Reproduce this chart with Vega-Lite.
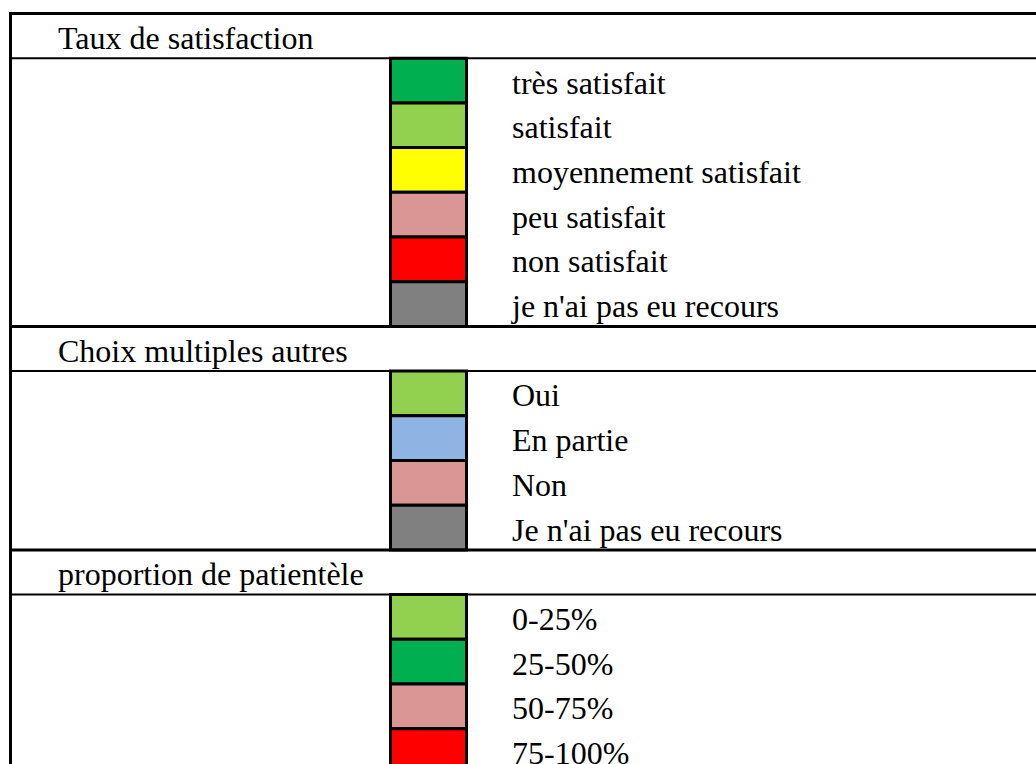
{
  "$schema": "https://vega.github.io/schema/vega-lite/v6.json",
  "width": 1025.5,
  "height": 750.5,
  "autosize": "none",
  "padding": {"left": 10.5, "top": 13.5, "right": 0, "bottom": 0},
  "background": "white",
  "config": {"view": {"stroke": null}},
  "data": {"values": [
    {"row": 0, "kind": "header", "label": "Taux de satisfaction"},
    {"row": 1, "kind": "item", "label": "très satisfait"},
    {"row": 2, "kind": "item", "label": "satisfait"},
    {"row": 3, "kind": "item", "label": "moyennement satisfait"},
    {"row": 4, "kind": "item", "label": "peu satisfait"},
    {"row": 5, "kind": "item", "label": "non satisfait"},
    {"row": 6, "kind": "item", "label": "je n'ai pas eu recours"},
    {"row": 7, "kind": "header", "label": "Choix multiples autres"},
    {"row": 8, "kind": "item", "label": "Oui"},
    {"row": 9, "kind": "item", "label": "En partie"},
    {"row": 10, "kind": "item", "label": "Non"},
    {"row": 11, "kind": "item", "label": "Je n'ai pas eu recours"},
    {"row": 12, "kind": "header", "label": "proportion de patientèle"},
    {"row": 13, "kind": "item", "label": "0-25%"},
    {"row": 14, "kind": "item", "label": "25-50%"},
    {"row": 15, "kind": "item", "label": "50-75%"},
    {"row": 16, "kind": "item", "label": "75-100%"}
  ]},
  "layer": [
    {
      "transform": [{"filter": "datum.kind === 'item'"}],
      "mark": {"type": "rect", "stroke": "black", "strokeWidth": 3, "clip": true},
      "encoding": {
        "y": {"field": "row", "type": "ordinal", "axis": null,
              "scale": {"domain": [0,1,2,3,4,5,6,7,8,9,10,11,12,13,14,15,16], "range": [0, 759.9], "paddingInner": 0, "paddingOuter": 0}},
        "x": {"datum": 380, "type": "quantitative", "axis": null, "scale": {"domain": [0, 1025.5], "nice": false, "zero": true}},
        "x2": {"datum": 456},
        "fill": {"field": "label", "type": "nominal", "legend": null,
                 "scale": {"domain": ["très satisfait","satisfait","moyennement satisfait","peu satisfait","non satisfait","je n'ai pas eu recours","Oui","En partie","Non","Je n'ai pas eu recours","0-25%","25-50%","50-75%","75-100%"],
                           "range": ["#00B050","#92D050","#FFFF00","#DA9694","#FF0000","#808080","#92D050","#8DB4E2","#DA9694","#808080","#92D050","#00B050","#DA9694","#FF0000"]}}
      }
    },
    {
      "transform": [{"filter": "datum.kind === 'header'"}],
      "mark": {"type": "text", "align": "left", "baseline": "alphabetic", "dy": 13, "font": "Liberation Serif", "fontSize": 32, "color": "black", "clip": true},
      "encoding": {
        "y": {"field": "row", "type": "ordinal", "axis": null},
        "x": {"datum": 47.5, "type": "quantitative"},
        "text": {"field": "label"}
      }
    },
    {
      "transform": [{"filter": "datum.kind === 'item'"}],
      "mark": {"type": "text", "align": "left", "baseline": "alphabetic", "dy": 13, "font": "Liberation Serif", "fontSize": 32, "color": "black", "clip": true},
      "encoding": {
        "y": {"field": "row", "type": "ordinal", "axis": null},
        "x": {"datum": 501.5, "type": "quantitative"},
        "text": {"field": "label"}
      }
    },
    {
      "transform": [{"filter": "datum.kind === 'header'"}],
      "mark": {"type": "rule", "color": "black", "strokeWidth": 3},
      "encoding": {
        "y": {"field": "row", "type": "ordinal", "bandPosition": 0, "axis": null},
        "x": {"datum": 0, "type": "quantitative"},
        "x2": {"datum": 1025.5}
      }
    },
    {
      "transform": [{"filter": "datum.kind === 'header'"}],
      "mark": {"type": "rule", "color": "black", "strokeWidth": 2},
      "encoding": {
        "y": {"field": "row", "type": "ordinal", "bandPosition": 1, "axis": null},
        "x": {"datum": 0, "type": "quantitative"},
        "x2": {"datum": 1025.5}
      }
    },
    {
      "transform": [{"filter": "datum.row === 0"}],
      "mark": {"type": "rule", "color": "black", "strokeWidth": 3, "strokeCap": "square"},
      "encoding": {
        "x": {"datum": 0, "type": "quantitative"}
      }
    }
  ]
}
